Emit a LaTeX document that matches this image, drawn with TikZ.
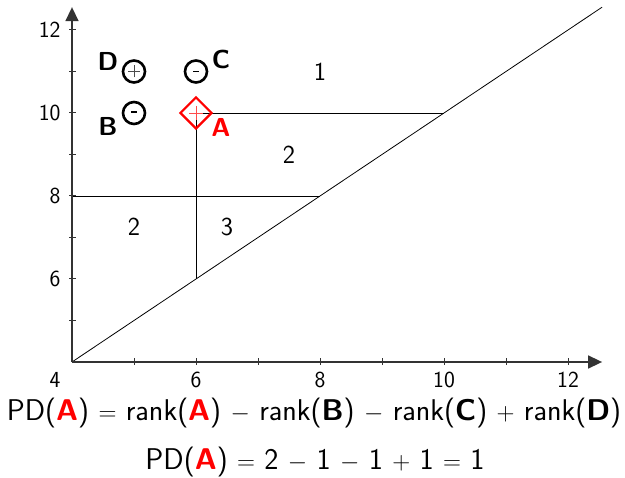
\documentclass[tikz,border=0pt]{standalone}
\usetikzlibrary{arrows.meta}
\renewcommand{\familydefault}{\sfdefault}
\begin{document}
\begin{tikzpicture}[x=1pt,y=1pt,
  axis/.style={line width=1.6pt,draw=black!80,-{Triangle[length=14pt,width=13pt]}},
  thin/.style={line width=0.8pt},
  ticklbl/.style={font=\fontsize{23}{23}\selectfont},
  reglbl/.style={font=\fontsize{26}{26}\selectfont},
  ptlbl/.style={font=\fontsize{26}{26}\selectfont\bfseries},
  ptc/.style={circle,draw=black,line width=2.6pt,minimum size=22pt,inner sep=0pt},
  eq/.style={font=\fontsize{30}{30}\selectfont}]
\useasboundingbox (0,0) rectangle (625,-478);
\begin{scope}[shift={(-176pt,-528pt)},x=62pt,y=41.5pt]
  % data coordinates
  \coordinate (O) at (4,4);
  \coordinate (XE) at (12.55,4);
  \coordinate (YE) at (4,12.55);
  \coordinate (DE) at (12.55,12.55);
  \coordinate (p106) at (6,10);
  \coordinate (p1010) at (10,10);
  \coordinate (p66) at (6,6);
  \coordinate (p48) at (4,8);
  \coordinate (p88) at (8,8);
  % diagonal & region lines
  \draw[thin] (O) -- (DE);
  \draw[thin] (p106) -- (p1010);
  \draw[thin] (p106) -- (p66);
  \draw[thin] (p48) -- (p88);
  % ticks
  \foreach \t in {5,...,12} {
    \draw[line width=1pt,black!80] (\t,4) ++(0,-3pt) -- ++(0,7pt);
  }
  \foreach \t in {5,...,12} {
    \draw[line width=1pt,black!80] (4,\t) ++(-3pt,0) -- ++(7pt,0);
  }
  \foreach \t in {6,8,10,12} {
    \node[ticklbl,anchor=center] (xl\t) at ([yshift=-18pt]\t,4) {\t};
    \node[ticklbl,anchor=east] (yl\t) at ([xshift=-8pt]4,\t) {\t};
  }
  \node[ticklbl] (xl4) at ([xshift=-17pt,yshift=-18pt]4,4) {4};
  % axes
  \draw[axis] (O) -- (XE);
  \draw[axis] (O) -- (YE);
  % region labels
  \node[reglbl] (r1) at (8,11) {1};
  \node[reglbl] (r2a) at (7.5,9) {2};
  \node[reglbl] (r2b) at (5,7.25) {2};
  \node[reglbl] (r3) at (6.5,7.25) {3};
  % points
  \node[ptc] (D) at (5,11) {};
  \node[ptc] (C) at (6,11) {};
  \node[ptc] (B) at (5,10) {};
  \draw[line width=0.8pt,black!70] ([xshift=-6pt]D.center) -- ([xshift=6pt]D.center)
        ([yshift=-6pt]D.center) -- ([yshift=6pt]D.center);
  \draw[line width=1.2pt] ([xshift=-3pt]C.center) -- ([xshift=3pt]C.center);
  \draw[line width=1.2pt] ([xshift=-3pt,yshift=1pt]B.center) -- ([xshift=3pt,yshift=1pt]B.center);
  \node[draw=red,line width=2.2pt,shape=rectangle,minimum size=22pt,rotate=45,inner sep=0pt] (A) at (6,10) {};
  \draw[red!70,line width=0.6pt] ([xshift=-7pt]A.center) -- ([xshift=7pt]A.center)
        ([yshift=-7pt]A.center) -- ([yshift=7pt]A.center);
  \node[ptlbl] (Dl) at ([xshift=-26pt,yshift=10pt]D.center) {D};
  \node[ptlbl] (Cl) at ([xshift=25pt,yshift=12pt]C.center) {C};
  \node[ptlbl] (Bl) at ([xshift=-26pt,yshift=-13pt]B.center) {B};
  \node[ptlbl,text=red] (Al) at ([xshift=25pt,yshift=-14pt]A.center) {A};
\end{scope}
\node[eq] (eq1) at (314,-413) {PD(\textbf{\color{red}A}) $=$ rank(\textbf{\color{red}A}) $-$ rank(\textbf{B}) $-$ rank(\textbf{C}) $+$ rank(\textbf{D})};
\node[eq] (eq2) at (315,-462) {PD(\textbf{\color{red}A}) $=$ 2 $-$ 1 $-$ 1 $+$ 1 $=$ 1};
\end{tikzpicture}
\end{document}
